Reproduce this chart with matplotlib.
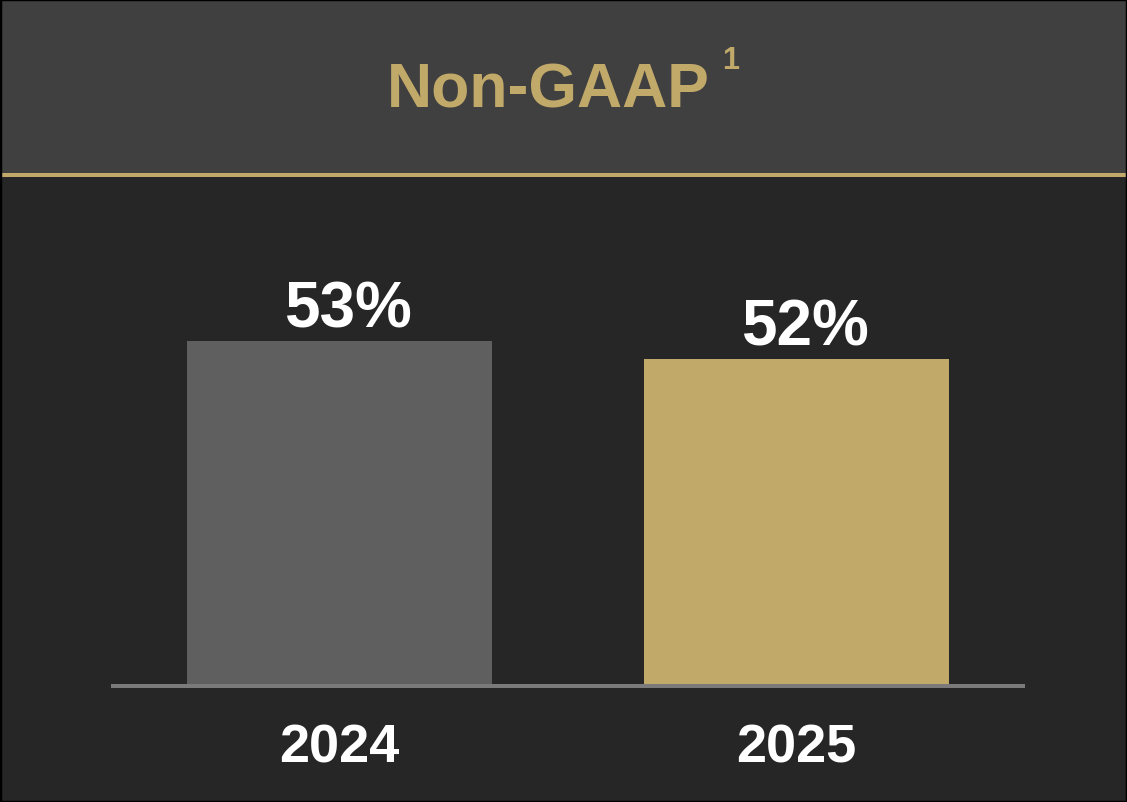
import matplotlib.pyplot as plt

plt.rcParams['font.family'] = ['Liberation Sans', 'DejaVu Sans']
plt.rcParams['font.weight'] = 'bold'

# 数据
years = ['2024', '2025']
margins = [53, 52]
labels = ['53%', '52%']

bar_colors = ['#5f5f5f', '#c1a96a']
gold = '#c1a96a'

fig = plt.figure(figsize=(11.27, 8.03), dpi=100)
fig.patch.set_facecolor('#262626')

# 顶部标题栏和金色分隔线
fig.patches.append(plt.Rectangle((0, 1 - 174 / 803), 1, 174 / 803, transform=fig.transFigure,
                                 facecolor='#404040', edgecolor='none', zorder=0))
fig.patches.append(plt.Rectangle((0, 1 - 178 / 803), 1, 4 / 803, transform=fig.transFigure,
                                 facecolor=gold, edgecolor='none', zorder=1))
# 黑色外框
fig.patches.append(plt.Rectangle((0, 0), 1, 1, transform=fig.transFigure, fill=False,
                                 edgecolor='black', linewidth=2.5, zorder=5))

fig.text(548.5 / 1127, 1 - 108 / 803, 'Non-GAAP', color=gold, fontsize=45,
         fontweight='bold', ha='center', va='baseline')
fig.text(722 / 1127, 1 - 69 / 803, '1', color=gold, fontsize=22,
         fontweight='bold', ha='left', va='baseline')

ax = fig.add_axes([111 / 1127, 116 / 803, 914 / 1127, 509 / 803])
ax.set_facecolor('none')
x = range(len(years))
ax.bar(x, margins, width=0.668, color=bar_colors, bottom=0, zorder=2)
ax.set_xlim(-0.5, 1.5)
ax.set_ylim(33.83, 62.1)
ax.axhline(33.83, color='#7a7a7a', linewidth=2.9, solid_capstyle='butt', zorder=3, clip_on=False)

for i, (v, lab) in enumerate(zip(margins, labels)):
    ax.annotate(lab, xy=(i, v), xytext=(6, 10), textcoords='offset points',
                ha='center', va='baseline', color='white', fontsize=46, fontweight='bold')
    ax.annotate(years[i], xy=(i, 33.83), xytext=(0, -54.5), textcoords='offset points',
                ha='center', va='baseline', color='white', fontsize=39, fontweight='bold',
                annotation_clip=False)

ax.axis('off')

plt.savefig('out.png', dpi=100, facecolor=fig.get_facecolor())
